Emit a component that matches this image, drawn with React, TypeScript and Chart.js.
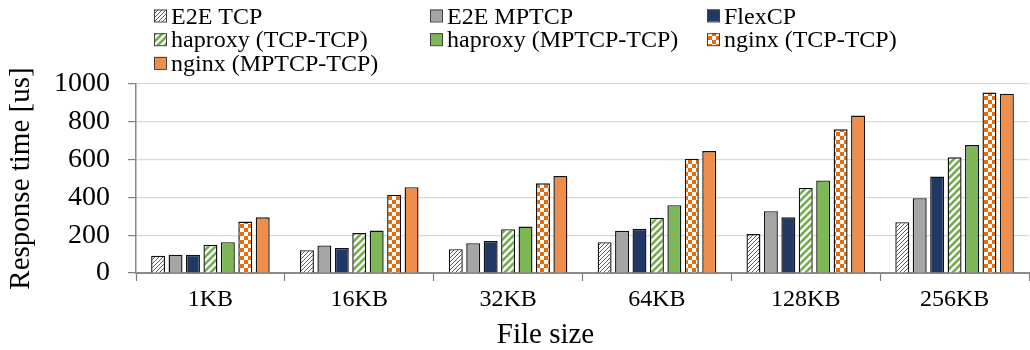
import React, { useEffect, useRef } from "react";
import { Chart, registerables } from "chart.js";

Chart.register(...registerables);

const categories = ["1KB", "16KB", "32KB", "64KB", "128KB", "256KB"];
const seriesLabels = [
  "E2E TCP",
  "E2E MPTCP",
  "FlexCP",
  "haproxy (TCP-TCP)",
  "haproxy (MPTCP-TCP)",
  "nginx (TCP-TCP)",
  "nginx (MPTCP-TCP)",
];
const e2eTcp = [91, 121, 126, 163, 206, 269];
const e2eMptcp = [96, 146, 158, 223, 327, 396];
const flexcp = [96, 132, 169, 234, 295, 510];
const haproxyTcp = [149, 211, 232, 292, 450, 612];
const haproxyMptcp = [163, 225, 246, 359, 490, 677];
const nginxTcp = [272, 413, 475, 605, 760, 955];
const nginxMptcp = [295, 454, 513, 645, 833, 949];
const yTicks = [0, 200, 400, 600, 800, 1000];
const yTitle = "Response time [us]";
const xTitle = "File size";

const FONT = "'Liberation Serif', 'Times New Roman', serif";

function makePattern(kind: string): CanvasPattern | string {
  const c = document.createElement("canvas");
  const ctx = c.getContext("2d");
  if (!ctx) return "#ccc";
  if (kind === "hatchGray") {
    c.width = 4;
    c.height = 4;
    ctx.fillStyle = "#ffffff";
    ctx.fillRect(0, 0, 4, 4);
    ctx.strokeStyle = "#5a5a5a";
    ctx.lineWidth = 1;
    ctx.beginPath();
    ctx.moveTo(0, 4);
    ctx.lineTo(4, 0);
    ctx.moveTo(-1, 1);
    ctx.lineTo(1, -1);
    ctx.moveTo(3, 5);
    ctx.lineTo(5, 3);
    ctx.stroke();
  } else if (kind === "stripeGreen") {
    c.width = 7;
    c.height = 7;
    ctx.fillStyle = "#ffffff";
    ctx.fillRect(0, 0, 7, 7);
    ctx.strokeStyle = "#70AD47";
    ctx.lineWidth = 2.6;
    ctx.beginPath();
    ctx.moveTo(-1, 8);
    ctx.lineTo(8, -1);
    ctx.moveTo(-4, 4);
    ctx.lineTo(4, -4);
    ctx.moveTo(3, 11);
    ctx.lineTo(11, 3);
    ctx.stroke();
  } else if (kind === "checkOrange") {
    c.width = 8;
    c.height = 8;
    ctx.fillStyle = "#ffffff";
    ctx.fillRect(0, 0, 8, 8);
    ctx.fillStyle = "#E46C0A";
    ctx.fillRect(0, 0, 4, 4);
    ctx.fillRect(4, 4, 4, 4);
  }
  const p = ctx.createPattern(c, "repeat");
  return p || "#ccc";
}

const gridLegendPlugin = {
  id: "gridLegend",
  afterDraw(chart: any) {
    const ctx = chart.ctx as CanvasRenderingContext2D;
    ctx.save();
    ctx.font = `24px ${FONT}`;
    ctx.textBaseline = "alphabetic";
    ctx.textAlign = "left";
    const colX = [154, 430, 707];
    chart.data.datasets.forEach((ds: any, i: number) => {
      const col = i % 3;
      const row = Math.floor(i / 3);
      const bx = colX[col];
      const base = 23.5 + row * 23.7;
      ctx.fillStyle = ds.backgroundColor;
      ctx.fillRect(bx, base - 14, 12, 12);
      ctx.strokeStyle = "#404040";
      ctx.lineWidth = 1;
      ctx.strokeRect(bx + 0.5, base - 13.5, 12, 12);
      ctx.fillStyle = "#000000";
      ctx.fillText(ds.label, bx + 17, base);
    });
    ctx.font = `29px ${FONT}`;
    ctx.textAlign = "center";
    ctx.fillStyle = "#000000";
    ctx.fillText(xTitle, 545.5, 343);
    ctx.restore();
  },
};

export default function App() {
  const canvasRef = useRef<HTMLCanvasElement | null>(null);

  useEffect(() => {
    document.body.style.margin = "0";
    const canvas = canvasRef.current;
    if (!canvas) return;
    const fills = [
      makePattern("hatchGray"),
      "#A5A5A5",
      "#203864",
      makePattern("stripeGreen"),
      "#7DB756",
      makePattern("checkOrange"),
      "#EF8E4A",
    ];
    const values = [e2eTcp, e2eMptcp, flexcp, haproxyTcp, haproxyMptcp, nginxTcp, nginxMptcp];
    const chart = new Chart(canvas, {
      type: "bar",
      data: {
        labels: categories,
        datasets: values.map((v, i) => ({
          label: seriesLabels[i],
          data: v,
          backgroundColor: fills[i] as any,
          borderColor: "#111111",
          borderWidth: 1.4,
          categoryPercentage: 0.82,
          barPercentage: 0.8,
        })),
      },
      options: {
        animation: false,
        responsive: true,
        maintainAspectRatio: false,
        layout: { padding: { top: 84, right: 1, left: 0, bottom: 0 } },
        plugins: {
          legend: { display: false },
          tooltip: { enabled: false },
          title: { display: false },
        },
        scales: {
          x: {
            offset: true,
            grid: {
              offset: true,
              drawOnChartArea: false,
              drawTicks: true,
              tickLength: 8,
              tickColor: "#7f7f7f",
              tickWidth: 1.2,
            },
            border: { display: true, color: "#8a8a8a", width: 2 },
            ticks: {
              color: "#000000",
              font: { family: FONT, size: 24 },
              padding: 4,
              maxRotation: 0,
            },
            afterFit: (scale: any) => {
              scale.height = 77;
            },
          },
          y: {
            min: 0,
            max: 1000,
            afterBuildTicks: (scale: any) => {
              scale.ticks = yTicks.map((v) => ({ value: v }));
            },
            grid: {
              color: "#d9d9d9",
              lineWidth: 1.2,
              drawTicks: true,
              tickLength: 8,
              tickColor: "#7f7f7f",
            },
            border: { display: true, color: "#8a8a8a", width: 1.5 },
            ticks: {
              color: "#000000",
              font: { family: FONT, size: 28 },
              padding: 18,
              callback: (v: any) => String(v),
            },
            title: {
              display: true,
              text: yTitle,
              color: "#000000",
              font: { family: FONT, size: 29 },
              padding: { top: 4, bottom: 0 },
            },
            afterFit: (scale: any) => {
              scale.width = 136;
            },
          },
        },
      },
      plugins: [gridLegendPlugin],
    });
    return () => chart.destroy();
  }, []);

  return (
    <div style={{ width: 1030, height: 350, position: "relative" }}>
      <canvas ref={canvasRef} />
    </div>
  );
}
